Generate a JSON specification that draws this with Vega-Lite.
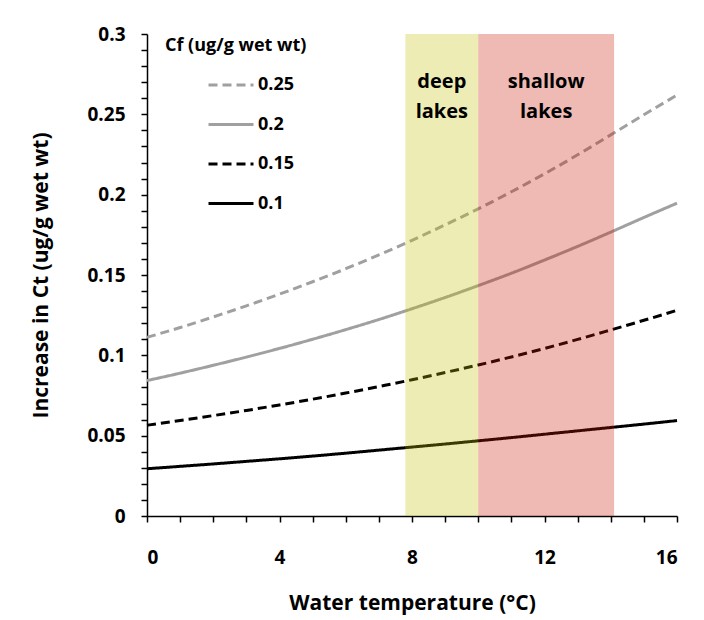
{
  "$schema": "https://vega.github.io/schema/vega-lite/v6.json",
  "width": 530,
  "height": 482,
  "autosize": {"type": "none"},
  "padding": {"left": 147, "top": 34, "right": 27, "bottom": 104},
  "background": "white",
  "config": {
    "view": {"stroke": null},
    "font": "Open Sans",
    "axis": {
      "grid": false,
      "domainColor": "#000000",
      "domainWidth": 1.5,
      "tickColor": "#000000",
      "tickWidth": 1.5,
      "tickSize": 6,
      "labelOverlap": false,
      "labelFont": "Open Sans",
      "labelFontWeight": "bold",
      "labelFontSize": 19,
      "labelColor": "#000000",
      "titleFont": "Open Sans",
      "titleFontWeight": "bold",
      "titleFontSize": 21,
      "titleColor": "#000000"
    }
  },
  "datasets": {
    "curves": [
      {"T": 0, "Ct": 0.1112, "Cf": "0.25"}, {"T": 1, "Ct": 0.1173, "Cf": "0.25"}, {"T": 2, "Ct": 0.1239, "Cf": "0.25"}, {"T": 3, "Ct": 0.1308, "Cf": "0.25"},
      {"T": 4, "Ct": 0.1381, "Cf": "0.25"}, {"T": 5, "Ct": 0.1458, "Cf": "0.25"}, {"T": 6, "Ct": 0.1539, "Cf": "0.25"}, {"T": 7, "Ct": 0.1625, "Cf": "0.25"},
      {"T": 8, "Ct": 0.1716, "Cf": "0.25"}, {"T": 9, "Ct": 0.1812, "Cf": "0.25"}, {"T": 10, "Ct": 0.1912, "Cf": "0.25"}, {"T": 11, "Ct": 0.2018, "Cf": "0.25"},
      {"T": 12, "Ct": 0.2130, "Cf": "0.25"}, {"T": 13, "Ct": 0.2248, "Cf": "0.25"}, {"T": 14, "Ct": 0.2372, "Cf": "0.25"}, {"T": 15, "Ct": 0.2497, "Cf": "0.25"},
      {"T": 16, "Ct": 0.2620, "Cf": "0.25"},
      {"T": 0, "Ct": 0.0843, "Cf": "0.2"}, {"T": 1, "Ct": 0.0889, "Cf": "0.2"}, {"T": 2, "Ct": 0.0938, "Cf": "0.2"}, {"T": 3, "Ct": 0.0989, "Cf": "0.2"},
      {"T": 4, "Ct": 0.1043, "Cf": "0.2"}, {"T": 5, "Ct": 0.1100, "Cf": "0.2"}, {"T": 6, "Ct": 0.1160, "Cf": "0.2"}, {"T": 7, "Ct": 0.1223, "Cf": "0.2"},
      {"T": 8, "Ct": 0.1290, "Cf": "0.2"}, {"T": 9, "Ct": 0.1360, "Cf": "0.2"}, {"T": 10, "Ct": 0.1434, "Cf": "0.2"}, {"T": 11, "Ct": 0.1511, "Cf": "0.2"},
      {"T": 12, "Ct": 0.1593, "Cf": "0.2"}, {"T": 13, "Ct": 0.1678, "Cf": "0.2"}, {"T": 14, "Ct": 0.1767, "Cf": "0.2"}, {"T": 15, "Ct": 0.1858, "Cf": "0.2"},
      {"T": 16, "Ct": 0.1947, "Cf": "0.2"},
      {"T": 0, "Ct": 0.0565, "Cf": "0.15"}, {"T": 1, "Ct": 0.0594, "Cf": "0.15"}, {"T": 2, "Ct": 0.0625, "Cf": "0.15"}, {"T": 3, "Ct": 0.0657, "Cf": "0.15"},
      {"T": 4, "Ct": 0.0691, "Cf": "0.15"}, {"T": 5, "Ct": 0.0727, "Cf": "0.15"}, {"T": 6, "Ct": 0.0765, "Cf": "0.15"}, {"T": 7, "Ct": 0.0806, "Cf": "0.15"},
      {"T": 8, "Ct": 0.0848, "Cf": "0.15"}, {"T": 9, "Ct": 0.0893, "Cf": "0.15"}, {"T": 10, "Ct": 0.0940, "Cf": "0.15"}, {"T": 11, "Ct": 0.0990, "Cf": "0.15"},
      {"T": 12, "Ct": 0.1043, "Cf": "0.15"}, {"T": 13, "Ct": 0.1099, "Cf": "0.15"}, {"T": 14, "Ct": 0.1158, "Cf": "0.15"}, {"T": 15, "Ct": 0.1218, "Cf": "0.15"},
      {"T": 16, "Ct": 0.1280, "Cf": "0.15"},
      {"T": 0, "Ct": 0.0294, "Cf": "0.1"}, {"T": 1, "Ct": 0.0309, "Cf": "0.1"}, {"T": 2, "Ct": 0.0324, "Cf": "0.1"}, {"T": 3, "Ct": 0.0340, "Cf": "0.1"},
      {"T": 4, "Ct": 0.0356, "Cf": "0.1"}, {"T": 5, "Ct": 0.0373, "Cf": "0.1"}, {"T": 6, "Ct": 0.0391, "Cf": "0.1"}, {"T": 7, "Ct": 0.0410, "Cf": "0.1"},
      {"T": 8, "Ct": 0.0429, "Cf": "0.1"}, {"T": 9, "Ct": 0.0448, "Cf": "0.1"}, {"T": 10, "Ct": 0.0468, "Cf": "0.1"}, {"T": 11, "Ct": 0.0488, "Cf": "0.1"},
      {"T": 12, "Ct": 0.0509, "Cf": "0.1"}, {"T": 13, "Ct": 0.0530, "Cf": "0.1"}, {"T": 14, "Ct": 0.0551, "Cf": "0.1"}, {"T": 15, "Ct": 0.0572, "Cf": "0.1"},
      {"T": 16, "Ct": 0.0594, "Cf": "0.1"}
    ],
    "zones": [
      {"zone": "deep", "start": 7.8, "end": 10, "mid": 8.9, "label": "deep\nlakes"},
      {"zone": "shallow", "start": 10, "end": 14.1, "mid": 12.05, "label": "shallow\nlakes"}
    ]
  },
  "layer": [
    {
      "data": {"name": "curves"},
      "mark": {"type": "line", "strokeWidth": 3, "interpolate": "monotone"},
      "encoding": {
        "x": {
          "field": "T", "type": "quantitative",
          "scale": {"domain": [0, 16], "nice": false},
          "axis": {
            "values": [0, 1, 2, 3, 4, 5, 6, 7, 8, 9, 10, 11, 12, 13, 14, 15, 16],
            "tickCount": 40,
            "format": "d",
            "labelExpr": "indexof([0, 4, 8, 12, 16], datum.value) >= 0 ? datum.label : ''",
            "labelPadding": 26,
            "title": "Water temperature (°C)",
            "titlePadding": 25
          }
        },
        "y": {
          "field": "Ct", "type": "quantitative",
          "scale": {"domain": [0, 0.3], "nice": false},
          "axis": {
            "values": [0, 0.01, 0.02, 0.03, 0.04, 0.05, 0.06, 0.07, 0.08, 0.09, 0.1, 0.11, 0.12, 0.13, 0.14, 0.15, 0.16, 0.17, 0.18, 0.19, 0.2, 0.21, 0.22, 0.23, 0.24, 0.25, 0.26, 0.27, 0.28, 0.29, 0.3],
            "tickCount": 60,
            "format": ".2~f",
            "labelExpr": "indexof([0, 0.05, 0.1, 0.15, 0.2, 0.25, 0.3], datum.value) >= 0 ? datum.label : ''",
            "labelPadding": 16,
            "title": "Increase in Ct (ug/g wet wt)",
            "titlePadding": 35
          }
        },
        "color": {
          "field": "Cf", "type": "nominal",
          "scale": {"domain": ["0.25", "0.2", "0.15", "0.1"], "range": ["#a0a0a0", "#a0a0a0", "#000000", "#000000"]},
          "legend": {
            "title": "Cf (ug/g wet wt)",
            "orient": "none",
            "legendX": 18,
            "legendY": 3,
            "symbolType": "stroke",
            "symbolSize": 2025,
            "symbolStrokeWidth": 3,
            "symbolOffset": 42,
            "labelFont": "Open Sans",
            "labelFontWeight": "bold",
            "labelFontSize": 18,
            "labelColor": "#000000",
            "labelOffset": 3,
            "titleFont": "Open Sans",
            "titleFontWeight": "bold",
            "titleFontSize": 18,
            "titleColor": "#000000",
            "titlePadding": 6,
            "rowPadding": 6.5
          }
        },
        "strokeDash": {
          "field": "Cf", "type": "nominal",
          "scale": {"domain": ["0.25", "0.2", "0.15", "0.1"], "range": [[9, 5], [1, 0], [9, 5], [1, 0]]},
          "legend": {
            "title": "Cf (ug/g wet wt)",
            "orient": "none",
            "legendX": 18,
            "legendY": 3,
            "symbolType": "stroke",
            "symbolSize": 2025,
            "symbolStrokeWidth": 3,
            "symbolOffset": 42,
            "labelFont": "Open Sans",
            "labelFontWeight": "bold",
            "labelFontSize": 18,
            "labelColor": "#000000",
            "labelOffset": 3,
            "titleFont": "Open Sans",
            "titleFontWeight": "bold",
            "titleFontSize": 18,
            "titleColor": "#000000",
            "titlePadding": 6,
            "rowPadding": 6.5
          }
        }
      }
    },
    {
      "data": {"name": "zones"},
      "mark": {"type": "rect", "opacity": 0.3},
      "encoding": {
        "x": {"field": "start", "type": "quantitative"},
        "x2": {"field": "end"},
        "fill": {
          "field": "zone", "type": "nominal",
          "scale": {"domain": ["deep", "shallow"], "range": ["#c0c005", "#ca1c02"]},
          "legend": null
        }
      }
    },
    {
      "data": {"name": "zones"},
      "mark": {"type": "text", "font": "Open Sans", "fontWeight": "bold", "fontSize": 20, "lineBreak": "\n", "lineHeight": 30, "align": "center", "baseline": "middle", "color": "#000000"},
      "encoding": {
        "x": {"field": "mid", "type": "quantitative"},
        "y": {"datum": 0.27},
        "text": {"field": "label"}
      }
    }
  ],
  "resolve": {"scale": {"fill": "independent"}}
}
